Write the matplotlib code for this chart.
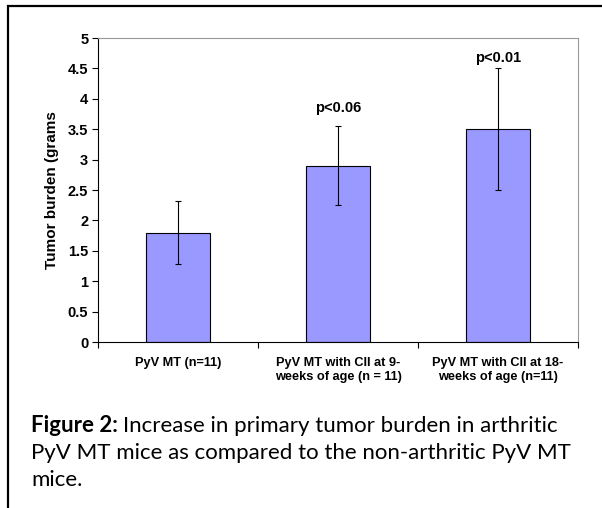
import matplotlib
matplotlib.use("Agg")
import matplotlib.pyplot as plt
from matplotlib.patches import Rectangle

# data
groups = ["PyV MT (n=11)",
          "PyV MT with CII at 9-\nweeks of age (n = 11)",
          "PyV MT with CII at 18-\nweeks of age (n=11)"]
burden = [1.8, 2.9, 3.5]
err = [0.52, 0.65, 1.0]
p_text = ["", "p<0.06", "p<0.01"]
p_pos = [0, 3.85, 4.67]

W, H = 602, 508
fig = plt.figure(figsize=(W / 100, H / 100), dpi=100)

# outer frame
fig.patches.append(Rectangle((8 / W, 0 - 0.1), 1.2, (H - 6) / H + 0.1,
                             transform=fig.transFigure, fill=False,
                             edgecolor="black", linewidth=1.6))

ax = fig.add_axes([98 / W, 1 - 342 / H, 480 / W, 304 / H])
x = list(range(len(groups)))
ax.bar(x, burden, width=0.4, color="#9999ff", edgecolor="black", linewidth=0.8,
       yerr=err, error_kw=dict(ecolor="black", elinewidth=0.8, capsize=2.5, capthick=0.8))
for i, t in enumerate(p_text):
    if t:
        ax.text(i, p_pos[i], t, ha="center", va="center", fontsize=10.5,
                fontweight="bold", family="Liberation Sans")

ax.set_xlim(-0.5, 2.5)
ax.set_ylim(0, 5)
ax.set_yticks([0, 0.5, 1, 1.5, 2, 2.5, 3, 3.5, 4, 4.5, 5])
ax.set_yticklabels(["0", "0.5", "1", "1.5", "2", "2.5", "3", "3.5", "4", "4.5", "5"],
                   fontsize=10.5, fontweight="bold", family="Liberation Sans")
ax.set_xticks([-0.5, 0.5, 1.5, 2.5])
ax.set_xticklabels([])
ax.set_xticks(x, minor=True)
ax.set_xticklabels(groups, minor=True, fontsize=9.2, fontweight="bold",
                   family="Liberation Sans", linespacing=1.15)
ax.tick_params(axis="x", which="minor", length=0, pad=11)
ax.tick_params(axis="x", which="major", length=4, direction="out", width=0.8)
ax.tick_params(axis="y", length=4, direction="out", width=0.8, pad=3)
ax.spines["top"].set_color("#999999")
ax.spines["right"].set_color("#999999")
ax.spines["left"].set_linewidth(0.8)
ax.spines["bottom"].set_linewidth(0.8)
ax.set_ylabel("Tumor burden (grams", fontsize=11, fontweight="bold",
              family="Liberation Sans", labelpad=6)

# caption
r = fig.canvas.get_renderer()
cap_x = 31 / W
fs = 16
t1 = fig.text(cap_x, 1 - 432 / H, "Figure 2:", fontsize=fs, fontweight="bold",
              family="Lato", va="baseline")
bb = t1.get_window_extent(renderer=r)
fig.text(bb.x1 / W + 5 / W, 1 - 432 / H,
         "Increase in primary tumor burden in arthritic", fontsize=fs,
         family="Lato", va="baseline")
fig.text(cap_x, 1 - 459 / H, "PyV MT mice as compared to the non-arthritic PyV MT",
         fontsize=fs, family="Lato", va="baseline")
fig.text(cap_x, 1 - 486 / H, "mice.", fontsize=fs, family="Lato", va="baseline")

fig.savefig("out.png", dpi=100)
